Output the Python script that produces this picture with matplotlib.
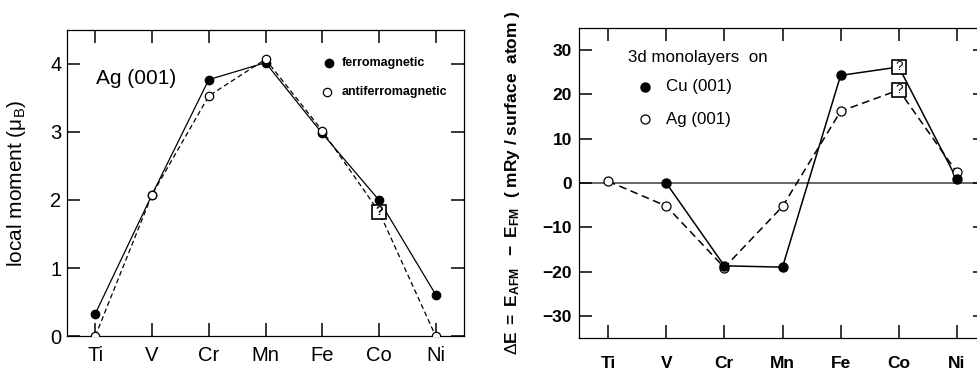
import matplotlib
matplotlib.use("Agg")
import matplotlib.pyplot as plt
import numpy as np

plt.rcParams['font.family'] = ['Liberation Sans', 'DejaVu Sans']
plt.rcParams['mathtext.fontset'] = 'custom'
plt.rcParams['mathtext.rm'] = 'Liberation Sans'
plt.rcParams['mathtext.it'] = 'Liberation Sans:italic'
plt.rcParams['mathtext.bf'] = 'Liberation Sans:bold'

# ---- data ----
elements = ["Ti", "V", "Cr", "Mn", "Fe", "Co", "Ni"]

# left panel: local moments on Ag(001)
moment_fm = [0.33, 2.08, 3.77, 4.02, 2.98, 2.00, 0.61]
moment_afm = [0.00, 2.08, 3.53, 4.07, 3.02, 1.83, 0.00]
moment_afm_uncertain = ["Co"]

# right panel: Delta E = E_AFM - E_FM (mRy / surface atom)
dE_cu = [np.nan, 0.0, -18.7, -19.0, 24.3, 26.2, 0.8]
dE_ag = [0.4, -5.2, -19.1, -5.3, 16.2, 21.0, 2.4]
dE_uncertain = ["Co"]

left_yticks = [0, 1, 2, 3, 4]
right_yticks = [-30, -20, -10, 0, 10, 20, 30]

x = np.arange(len(elements))

fig = plt.figure(figsize=(9.77, 3.68), dpi=100)
W, H = 977, 368

def add_axes_px(l, t, r, b):
    return fig.add_axes([l / W, 1 - b / H, (r - l) / W, (b - t) / H])

ax1 = add_axes_px(67, 30, 464, 336)
ax2 = add_axes_px(579, 28, 986, 338)

for ax in (ax1, ax2):
    for s in ax.spines.values():
        s.set_linewidth(0.9)
    ax.tick_params(direction='in', top=True, right=True, length=9.5, width=1.1)
    ax.set_xticks(x)
    ax.set_xticklabels(elements)
    ax.set_xlim(-0.5, 6.5)

# ---- left panel ----
ax1.plot(x, moment_fm, color='black', lw=0.9, ls='-', marker='o', ms=6,
         mfc='black', mec='black', zorder=3)
mask_unc = np.array([e in moment_afm_uncertain for e in elements])
afm = np.array(moment_afm)
ax1.plot(x, afm, color='black', lw=0.9, ls=(0, (4, 2.5)), zorder=2)
ax1.plot(x[~mask_unc], afm[~mask_unc], ls='none', marker='o', ms=6,
         mfc='white', mec='black', mew=0.9, zorder=4)
ax1.plot(x[mask_unc], afm[mask_unc], ls='none', marker='s', ms=10,
         mfc='white', mec='black', mew=1.2, zorder=4)
for xi, yi in zip(x[mask_unc], afm[mask_unc]):
    ax1.text(xi, yi, '?', ha='center', va='center', fontsize=9,
             fontweight='bold', zorder=5)

ax1.set_ylim(0, 4.5)
ax1.set_yticks(left_yticks)
ax1.tick_params(axis='both', labelsize=14.5)
ax1.tick_params(axis='x', pad=7)
ax1.tick_params(axis='y', pad=4)
ax1.set_ylabel('local moment (μ$_\\mathrm{B}$)', fontsize=15)
ax1.yaxis.set_label_coords(-0.098, 0.5)

ax1.text(0.073, 0.84, 'Ag (001)', transform=ax1.transAxes, fontsize=15,
         ha='left', va='center')
ax1.plot([0.66], [0.892], transform=ax1.transAxes, marker='o', ms=6,
         mfc='black', mec='black', ls='none', clip_on=False)
ax1.text(0.693, 0.892, 'ferromagnetic', transform=ax1.transAxes, fontsize=9,
         fontweight='bold', ha='left', va='center')
ax1.plot([0.655], [0.797], transform=ax1.transAxes, marker='o', ms=6,
         mfc='white', mec='black', mew=0.9, ls='none', clip_on=False)
ax1.text(0.693, 0.797, 'antiferromagnetic', transform=ax1.transAxes, fontsize=9,
         fontweight='bold', ha='left', va='center')

# ---- right panel ----
ax2.axhline(0, color='0.4', lw=1.4, zorder=1)
cu = np.array(dE_cu)
ag = np.array(dE_ag)
mask2 = np.array([e in dE_uncertain for e in elements])

ax2.plot(x, cu, color='black', lw=1.1, ls='-', zorder=2)
ax2.plot(x, ag, color='black', lw=1.1, ls=(0, (5, 3)), zorder=2)
ax2.plot(x[~mask2], cu[~mask2], ls='none', marker='o', ms=6.5,
         mfc='black', mec='black', zorder=4)
ax2.plot(x[~mask2], ag[~mask2], ls='none', marker='o', ms=6.5,
         mfc='white', mec='black', mew=0.9, zorder=3)
for arr in (cu, ag):
    ax2.plot(x[mask2], arr[mask2], ls='none', marker='s', ms=10,
             mfc='white', mec='black', mew=1.2, zorder=4)
    for xi, yi in zip(x[mask2], arr[mask2]):
        ax2.text(xi, yi, '?', ha='center', va='center', fontsize=9.5, zorder=5)

ax2.set_ylim(-35, 35)
ax2.set_yticks(right_yticks)
ax2.set_yticklabels([str(v).replace('-', '\u2212') for v in right_yticks])
ax2.tick_params(axis='both', labelsize=12.5)
for lab in ax2.get_xticklabels() + ax2.get_yticklabels():
    lab.set_fontweight('bold')
ax2.tick_params(axis='x', pad=13)
ax2.tick_params(axis='y', pad=5)
ax2.set_ylabel(r'$\Delta\mathbf{E\ =\ E_{AFM}\ \ -\ E_{FM}}$  ( mRy / surface  atom )',
               fontsize=12.5, fontweight='bold')
ax2.yaxis.set_label_coords(-0.14, 0.5)

ax2.text(0.12, 0.906, '3d monolayers  on', transform=ax2.transAxes,
         fontsize=12.2, ha='left', va='center')
ax2.plot([0.162], [0.81], transform=ax2.transAxes, marker='o', ms=6.5,
         mfc='black', mec='black', ls='none', clip_on=False)
ax2.text(0.214, 0.81, 'Cu (001)', transform=ax2.transAxes, fontsize=12.2,
         ha='left', va='center')
ax2.plot([0.162], [0.706], transform=ax2.transAxes, marker='o', ms=6.5,
         mfc='white', mec='black', mew=0.9, ls='none', clip_on=False)
ax2.text(0.214, 0.706, 'Ag (001)', transform=ax2.transAxes, fontsize=12.2,
         ha='left', va='center')

fig.savefig('out.png', dpi=100)
